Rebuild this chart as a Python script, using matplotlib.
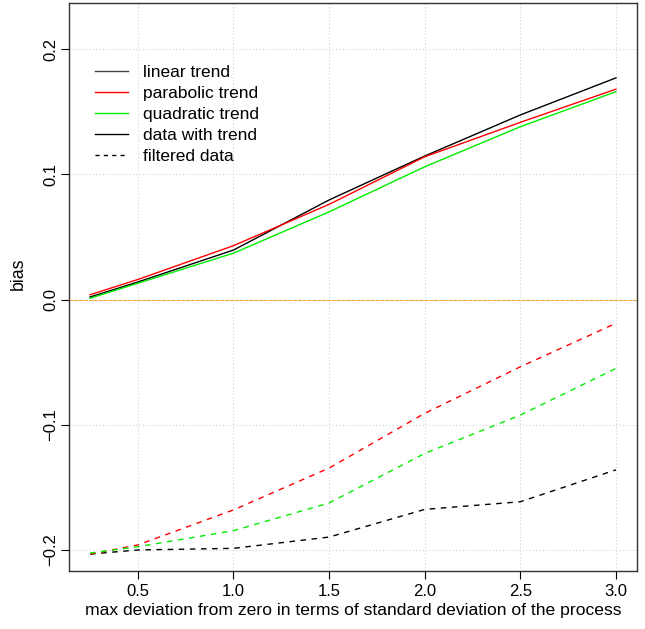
import matplotlib
matplotlib.use("Agg")
import matplotlib.pyplot as plt
from matplotlib.lines import Line2D

x = [0.25, 0.5, 1.0, 1.5, 2.0, 2.5, 3.0]

# solid: data with trend
linear_trend = [0.002, 0.014, 0.0395, 0.0795, 0.1146, 0.1474, 0.177]
parabolic_trend = [0.0038, 0.016, 0.043, 0.076, 0.114, 0.1415, 0.168]
quadratic_trend = [0.001, 0.013, 0.037, 0.070, 0.106, 0.138, 0.166]

# dashed: filtered data
linear_filtered = [-0.2033, -0.200, -0.1987, -0.1897, -0.1676, -0.1615, -0.136]
parabolic_filtered = [-0.2033, -0.196, -0.168, -0.1346, -0.0909, -0.0537, -0.019]
quadratic_filtered = [-0.2025, -0.1974, -0.1846, -0.1625, -0.1229, -0.0923, -0.055]

xticks = [0.5, 1.0, 1.5, 2.0, 2.5, 3.0]
xticklabels = ["0.5", "1.0", "1.5", "2.0", "2.5", "3.0"]
yticks = [-0.2, -0.1, 0.0, 0.1, 0.2]
yticklabels = ["\u22120.2", "\u22120.1", "0.0", "0.1", "0.2"]

legend_labels = ["linear trend", "parabolic trend", "quadratic trend",
                 "data with trend", "filtered data"]

plt.rcParams['font.family'] = ['Liberation Sans', 'DejaVu Sans']

fig = plt.figure(figsize=(6.45, 6.29), dpi=100)
ax = fig.add_axes([69/645, 1 - 571/629, (637-69)/645, (571-3)/629])

for v in xticks:
    ax.axvline(v, color="#d3d3d3", lw=0.8, ls=(0, (1, 2)), zorder=0)
for v in yticks:
    ax.axhline(v, color="#d3d3d3", lw=0.8, ls=(0, (1, 2)), zorder=0)
ax.axhline(0.0, color="#f0a030", lw=0.7, ls=(0, (4, 1)), zorder=1)

ax.plot(x, linear_trend, color="black", lw=1)
ax.plot(x, parabolic_trend, color="red", lw=1)
ax.plot(x, quadratic_trend, color="#00ee00", lw=1)
ax.plot(x, linear_filtered, color="black", lw=1, ls=(0, (4, 4)))
ax.plot(x, parabolic_filtered, color="red", lw=1, ls=(0, (4, 4)))
ax.plot(x, quadratic_filtered, color="#00ee00", lw=1, ls=(0, (4, 4)))

ax.set_xlim(0.14, 3.11)
ax.set_ylim(-0.2168, 0.2368)
ax.set_xticks(xticks)
ax.set_xticklabels(xticklabels)
ax.set_yticks(yticks)
ax.set_yticklabels(yticklabels, rotation=90, va="center")
ax.tick_params(axis="both", direction="out", length=6, width=0.8, labelsize=12,
               colors="black")
ax.tick_params(axis="x", pad=3)
ax.tick_params(axis="y", pad=2)
for s in ax.spines.values():
    s.set_linewidth(1.0)
    s.set_color("#333333")

ax.set_xlabel("max deviation from zero in terms of standard deviation of the process",
              fontsize=12.6, labelpad=3)
ax.set_ylabel("bias", fontsize=12.8)
ax.yaxis.set_label_coords(-0.074, 0.5 + 13/568)

handles = [
    Line2D([], [], color="#444444", lw=1),
    Line2D([], [], color="red", lw=1),
    Line2D([], [], color="#00ee00", lw=1),
    Line2D([], [], color="black", lw=1),
    Line2D([], [], color="black", lw=1, ls=(0, (3, 3))),
]
ax.legend(handles, legend_labels, loc="upper left", bbox_to_anchor=(0.033, 0.904),
          frameon=False, fontsize=12.5, handlelength=1.9, handletextpad=0.86,
          labelspacing=0.34, borderaxespad=0)

fig.savefig("out.png", dpi=100)
